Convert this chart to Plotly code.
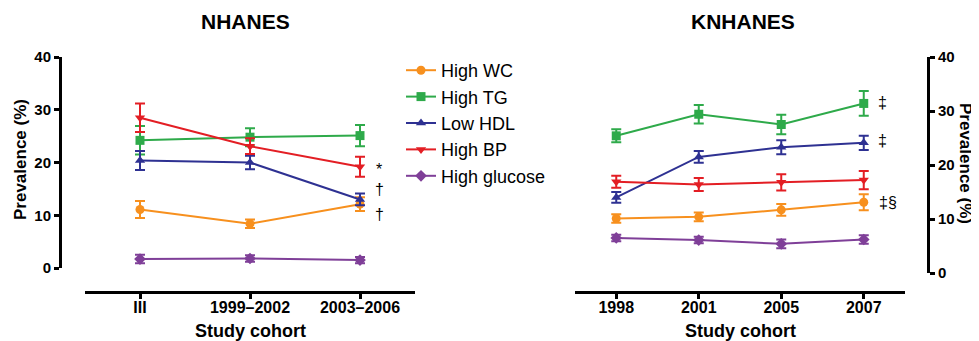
import plotly.graph_objects as go

W, H = 979, 341

# ---------------------------------------------------------------
# data
# ---------------------------------------------------------------
series = ["High WC", "High TG", "Low HDL", "High BP", "High glucose"]
colors = ["#F7901E", "#2EAA4A", "#2E3192", "#E31E24", "#7F3F98"]
symbols = ["circle", "square", "triangle-up", "triangle-down", "diamond"]

nh_cohort = ["III", "1999–2002", "2003–2006"]
nh_wc = [11.1, 8.4, 12.1]
nh_wc_err = [1.6, 0.8, 1.3]
nh_tg = [24.2, 24.8, 25.1]
nh_tg_err = [2.7, 1.7, 2.0]
nh_hdl = [20.4, 20.0, 13.0]
nh_hdl_err = [1.8, 1.3, 1.1]
nh_bp = [28.5, 23.1, 19.2]
nh_bp_err = [2.7, 1.5, 1.9]
nh_glu = [1.7, 1.8, 1.5]
nh_glu_err = [0.8, 0.6, 0.6]

kn_cohort = ["1998", "2001", "2005", "2007"]
kn_wc = [10.1, 10.4, 11.7, 13.1]
kn_wc_err = [0.8, 0.8, 1.1, 1.5]
kn_tg = [25.4, 29.4, 27.5, 31.4]
kn_tg_err = [1.2, 1.7, 1.8, 2.3]
kn_hdl = [14.0, 21.5, 23.3, 24.1]
kn_hdl_err = [1.0, 1.1, 1.3, 1.3]
kn_bp = [16.9, 16.4, 16.8, 17.2]
kn_bp_err = [1.1, 1.2, 1.5, 1.7]
kn_glu = [6.5, 6.1, 5.4, 6.2]
kn_glu_err = [0.6, 0.6, 0.8, 0.8]

nh_vals = [nh_wc, nh_tg, nh_hdl, nh_bp, nh_glu]
nh_errs = [nh_wc_err, nh_tg_err, nh_hdl_err, nh_bp_err, nh_glu_err]
kn_vals = [kn_wc, kn_tg, kn_hdl, kn_bp, kn_glu]
kn_errs = [kn_wc_err, kn_tg_err, kn_hdl_err, kn_bp_err, kn_glu_err]

# significance marks: (panel, category, y value, text, xshift)
marks = [
    ("x", "2003–2006", 18.6, "*", 19),
    ("x", "2003–2006", 14.8, "†", 19),
    ("x", "2003–2006", 10.2, "†", 19),
    ("x2", "2007", 31.5, "‡", 19),
    ("x2", "2007", 24.6, "‡", 19),
    ("x2", "2007", 13.0, "‡§", 24),
]

# ---------------------------------------------------------------
FONT = "Liberation Sans, Arial, sans-serif"
OFF = 8  # the page body margin pushes the figure 8px right/down


def px_x(p):
    return (p - OFF) / W


def px_y(p):
    return 1 - (p - OFF) / H


fig = go.Figure()

for i, name in enumerate(series):
    for xa, ya, cats, vals, errs, show in [
        ("x", "y", nh_cohort, nh_vals, nh_errs, True),
        ("x2", "y2", kn_cohort, kn_vals, kn_errs, False),
    ]:
        fig.add_trace(go.Scatter(
            x=cats,
            y=vals[i],
            name=name,
            xaxis=xa,
            yaxis=ya,
            mode="lines+markers",
            line=dict(color=colors[i], width=2),
            marker=dict(symbol=symbols[i], size=9, color=colors[i]),
            error_y=dict(type="data", array=errs[i], color=colors[i],
                         thickness=2, width=5),
            showlegend=show,
            cliponaxis=False,
        ))

axis_font = dict(family=FONT, size=15, color="black", weight="bold")
xtick_font = dict(family=FONT, size=16, color="black", weight="bold")

common = dict(
    showline=True, linewidth=3, linecolor="black",
    ticks="outside", tickwidth=3, tickcolor="black",
    showgrid=False, zeroline=False, automargin=False,
)

fig.update_layout(
    width=W,
    height=H,
    margin=dict(l=0, r=0, t=0, b=0, pad=0, autoexpand=False),
    paper_bgcolor="white",
    plot_bgcolor="white",
    font=dict(family=FONT, color="black"),
    xaxis=dict(
        type="category",
        domain=[px_x(85), px_x(415)],
        range=[-0.5, 2.5],
        anchor="free",
        position=px_y(292),
        ticklen=5,
        ticklabelstandoff=-5,
        tickfont=xtick_font,
        **common,
    ),
    yaxis=dict(
        domain=[px_y(268), px_y(57)],
        range=[0, 40],
        anchor="free",
        position=px_x(60),
        ticklen=5,
        tickvals=[0, 10, 20, 30, 40],
        tickfont=axis_font,
        **common,
    ),
    xaxis2=dict(
        type="category",
        domain=[px_x(575), px_x(905)],
        range=[-0.5, 3.5],
        anchor="free",
        position=px_y(292),
        ticklen=5,
        ticklabelstandoff=-5,
        tickfont=xtick_font,
        **common,
    ),
    yaxis2=dict(
        domain=[px_y(273), px_y(57)],
        range=[0, 40],
        anchor="free",
        position=px_x(928),
        side="right",
        ticklen=5,
        tickvals=[0, 10, 20, 30, 40],
        tickfont=axis_font,
        **common,
    ),
    legend=dict(
        x=px_x(401),
        y=px_y(52),
        xanchor="left",
        yanchor="top",
        font=dict(family=FONT, size=18, color="black"),
        bgcolor="rgba(0,0,0,0)",
    ),
)

bold = dict(family=FONT, color="black", weight="bold")
texts = [
    ("NHANES", 245, 22, 21, 0),
    ("KNHANES", 743, 22, 21, 0),
    ("Study cohort", 250, 331, 18, 0),
    ("Study cohort", 740, 331, 18, 0),
    ("Prevalence (%)", 20, 160, 17, -90),
    ("Prevalence (%)", 966, 163, 17, 90),
]
for t, x, y, s, ang in texts:
    fig.add_annotation(
        text=t, xref="paper", yref="paper", x=px_x(x), y=px_y(y),
        xanchor="center", yanchor="middle", showarrow=False,
        textangle=ang, font=dict(bold, size=s),
    )

for xa, cat, yv, t, dx in marks:
    cats = nh_cohort if xa == "x" else kn_cohort
    fig.add_annotation(
        text=t, xref=xa, yref="y" if xa == "x" else "y2",
        x=cats.index(cat), y=yv,
        xshift=dx, showarrow=False, font=dict(family=FONT, size=16, color="black"),
    )

fig.write_html("out.html")
